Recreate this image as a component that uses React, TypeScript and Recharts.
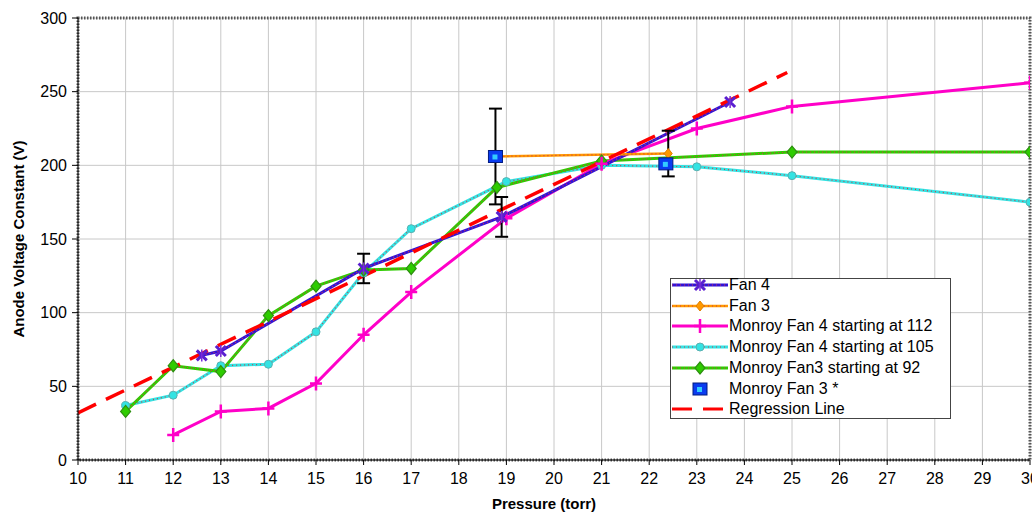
import React from 'react';
import {
  ComposedChart, Line, XAxis, YAxis, CartesianGrid, ErrorBar, Legend, ReferenceArea,
} from 'recharts';

// ---------- data ----------
const xTicks = [10, 11, 12, 13, 14, 15, 16, 17, 18, 19, 20, 21, 22, 23, 24, 25, 26, 27, 28, 29, 30];
const yTicks = [0, 50, 100, 150, 200, 250, 300];

const fan4X = [12.6, 13, 16, 18.9, 23.7];
const fan4Y = [71, 74, 130, 165, 243];
const fan4Err = [0, 0, 10, 13.5, 0];

const fan3X = [18.77, 22.4];
const fan3Y = [206, 208];
const fan3Err = [32.5, 15.5];

const m112X = [12, 13, 14, 15, 16, 17, 19, 21, 23, 25, 30];
const m112Y = [17, 33, 35, 52, 85, 114, 164, 201, 225, 240, 256];

const m105X = [11, 12, 13, 14, 15, 16, 17, 19, 21, 23, 25, 30];
const m105Y = [37, 44, 64, 65, 87, 127, 157, 189, 200, 199, 193, 175];

const m92X = [11, 12, 13, 14, 15, 16, 17, 18.8, 21, 25, 30];
const m92Y = [33, 64, 60, 98, 118, 129, 130, 185, 203, 209, 209];

const mf3X = [18.77, 22.35];
const mf3Y = [206, 201];

const regX = [10, 24.9];
const regY = [32, 263];

const legendLabels = [
  'Fan 4',
  'Fan 3',
  'Monroy Fan 4 starting at 112',
  'Monroy Fan 4 starting at 105',
  'Monroy Fan3 starting at 92',
  'Monroy Fan 3 *',
  'Regression Line',
];

// ---------- helpers ----------
const pts = (xs: number[], ys: number[], es?: number[]) =>
  xs.map((x, i) => ({ x, y: ys[i], err: es ? es[i] : 0 }));

const fan4Data = pts(fan4X, fan4Y, fan4Err);
const fan4ErrData = fan4Data.filter((d) => d.err > 0);
const fan3Data = pts(fan3X, fan3Y, fan3Err);
const m112Data = pts(m112X, m112Y);
const m105Data = pts(m105X, m105Y);
const m92Data = pts(m92X, m92Y);
const mf3Data = pts(mf3X, mf3Y);
const regData = pts(regX, regY);

const FONT = "'Liberation Sans', Arial, sans-serif";

const C_FAN4 = '#3312d6';
const C_FAN3 = '#ff9900';
const C_M112 = '#ff00c8';
const C_M105 = '#33e3e3';
const C_M92 = '#2ecc00';
const C_REG = '#ff0000';
const C_DOTS = '#cc3b4a';

const XMark = ({ cx, cy }: any) => (
  <g>
    <path d={`M${cx - 5},${cy - 5}L${cx + 5},${cy + 5}M${cx + 5},${cy - 5}L${cx - 5},${cy + 5}`} stroke="#5a1fd0" strokeWidth={3} />
    <path d={`M${cx},${cy - 6}L${cx},${cy + 6}`} stroke="#7a2ad8" strokeWidth={1.5} />
  </g>
);
const PlusMark = ({ cx, cy }: any) => (
  <path d={`M${cx},${cy - 7}L${cx},${cy + 7}M${cx - 6},${cy}L${cx + 6},${cy}`} stroke={C_M112} strokeWidth={2.5} />
);
const CircleMark = ({ cx, cy }: any) => (
  <circle cx={cx} cy={cy} r={4} fill={C_M105} stroke="#5ab0b0" strokeWidth={1} />
);
const GreenMark = ({ cx, cy }: any) => (
  <path d={`M${cx},${cy - 6}L${cx + 5},${cy}L${cx},${cy + 6}L${cx - 5},${cy}Z`} fill={C_M92} stroke="#2d8f10" strokeWidth={1.2} />
);
const OrangeMark = ({ cx, cy }: any) => (
  <path d={`M${cx},${cy - 5}L${cx + 4},${cy}L${cx},${cy + 5}L${cx - 4},${cy}Z`} fill={C_FAN3} stroke="#e08000" strokeWidth={1} />
);
const SquareMark = ({ cx, cy }: any) => (
  <g>
    <rect x={cx - 7} y={cy - 6} width={14} height={12} fill="#0a3cf0" stroke="#001a80" strokeWidth={1} />
    <rect x={cx - 3} y={cy - 2} width={5} height={5} fill="#33ccff" />
  </g>
);

const dotFn = (Comp: any, prefix: string) => (props: any) => {
  const { cx, cy, index } = props;
  if (cx == null || cy == null) return <g key={`${prefix}-${index}`} />;
  return <g key={`${prefix}-${index}`}><Comp cx={cx} cy={cy} /></g>;
};

const legendIcon = (i: number) => {
  const w = 56;
  const mid = 10;
  switch (i) {
    case 0:
      return (
        <g>
          <line x1={0} y1={mid} x2={w} y2={mid} stroke={C_FAN4} strokeWidth={3} />
          <line x1={0} y1={mid} x2={w} y2={mid} stroke={C_DOTS} strokeWidth={1.2} strokeDasharray="1 3" />
          <XMark cx={w / 2} cy={mid} />
        </g>
      );
    case 1:
      return (
        <g>
          <line x1={0} y1={mid} x2={w} y2={mid} stroke={C_FAN3} strokeWidth={2.5} />
          <line x1={0} y1={mid} x2={w} y2={mid} stroke={C_DOTS} strokeWidth={1.2} strokeDasharray="1 3" />
          <OrangeMark cx={w / 2} cy={mid} />
        </g>
      );
    case 2:
      return (
        <g>
          <line x1={0} y1={mid} x2={w} y2={mid} stroke={C_M112} strokeWidth={3} />
          <PlusMark cx={w / 2} cy={mid} />
        </g>
      );
    case 3:
      return (
        <g>
          <line x1={0} y1={mid} x2={w} y2={mid} stroke={C_M105} strokeWidth={3} />
          <line x1={0} y1={mid} x2={w} y2={mid} stroke={C_DOTS} strokeWidth={1.2} strokeDasharray="1 3" />
          <CircleMark cx={w / 2} cy={mid} />
        </g>
      );
    case 4:
      return (
        <g>
          <line x1={0} y1={mid} x2={w} y2={mid} stroke={C_M92} strokeWidth={3} />
          <line x1={0} y1={mid} x2={w} y2={mid} stroke={C_DOTS} strokeWidth={1.2} strokeDasharray="1 3" />
          <GreenMark cx={w / 2} cy={mid} />
        </g>
      );
    case 5:
      return <SquareMark cx={w / 2} cy={mid} />;
    default:
      return (
        <g>
          <line x1={0} y1={mid} x2={w} y2={mid} stroke={C_REG} strokeWidth={3} strokeDasharray="20 11" />
        </g>
      );
  }
};

const renderLegend = () => (
  <div
    style={{
      position: 'relative',
      width: 281,
      height: 141,
      border: '1px solid #444',
      background: '#fff',
      fontFamily: FONT,
      fontSize: 16,
      color: '#000',
      boxSizing: 'border-box',
    }}
  >
    {legendLabels.map((lab, i) => (
      <div
        key={lab}
        style={{
          position: 'absolute',
          left: 1,
          top: 6 + 20.7 * i - 10,
          height: 20,
          display: 'flex',
          alignItems: 'center',
          whiteSpace: 'nowrap',
          lineHeight: '20px',
        }}
      >
        <svg width={56} height={20} style={{ display: 'block' }}>{legendIcon(i)}</svg>
        <span style={{ marginLeft: 1 }}>{lab}</span>
      </div>
    ))}
  </div>
);

export default function App() {
  return (
    <div style={{ position: 'absolute', left: 0, top: 0, width: 1032, height: 514, background: '#fff', fontFamily: FONT }}>
      <ComposedChart width={1032} height={514} margin={{ top: 18, right: 2, bottom: 0, left: 0 }}>
        <CartesianGrid stroke="#c8c8c8" strokeWidth={1} />
        <XAxis
          type="number"
          dataKey="x"
          domain={[10, 30]}
          ticks={xTicks}
          interval={0}
          allowDataOverflow
          height={54}
          tickSize={5}
          tickMargin={8}
          stroke="#000"
          tick={{ fill: '#000', fontSize: 16, fontFamily: FONT }}
          label={{
            value: 'Pressure (torr)',
            position: 'insideBottom',
            offset: 5,
            dx: -10,
            style: { fontWeight: 'bold', fontSize: 15, fill: '#000', fontFamily: FONT },
          }}
        />
        <YAxis
          type="number"
          dataKey="y"
          domain={[0, 300]}
          ticks={yTicks}
          interval={0}
          width={78}
          tickSize={6}
          tickMargin={5}
          stroke="#000"
          tick={{ fill: '#000', fontSize: 16, fontFamily: FONT }}
          label={{
            value: 'Anode Voltage Constant (V)',
            angle: -90,
            position: 'insideLeft',
            offset: 19,
            style: { textAnchor: 'middle', fontWeight: 'bold', fontSize: 15, fill: '#000', fontFamily: FONT },
          }}
        />
        <ReferenceArea x1={10} x2={30} y1={0} y2={300} fill="none" stroke="#555" strokeWidth={3} strokeDasharray="1.5 1.5" />

        {/* Monroy Fan 4 starting at 105 */}
        <Line data={m105Data} dataKey="y" type="linear" stroke={C_M105} strokeWidth={3} dot={false} activeDot={false} isAnimationActive={false} legendType="none" />
        <Line data={m105Data} dataKey="y" type="linear" stroke={C_DOTS} strokeWidth={1.2} strokeDasharray="1 3" dot={dotFn(CircleMark, 'c')} activeDot={false} isAnimationActive={false} legendType="none" />

        {/* Monroy Fan3 starting at 92 */}
        <Line data={m92Data} dataKey="y" type="linear" stroke={C_M92} strokeWidth={3} dot={false} activeDot={false} isAnimationActive={false} legendType="none" />
        <Line data={m92Data} dataKey="y" type="linear" stroke={C_DOTS} strokeWidth={1.2} strokeDasharray="1 3" dot={dotFn(GreenMark, 'g')} activeDot={false} isAnimationActive={false} legendType="none" />

        {/* Monroy Fan 4 starting at 112 */}
        <Line data={m112Data} dataKey="y" type="linear" stroke={C_M112} strokeWidth={3} dot={dotFn(PlusMark, 'p')} activeDot={false} isAnimationActive={false} legendType="none" />

        {/* Fan 4 */}
        <Line data={fan4Data} dataKey="y" type="linear" stroke={C_FAN4} strokeWidth={3} dot={false} activeDot={false} isAnimationActive={false} legendType="none" />
        <Line data={fan4Data} dataKey="y" type="linear" stroke={C_DOTS} strokeWidth={1.2} strokeDasharray="1 3" dot={dotFn(XMark, 'x')} activeDot={false} isAnimationActive={false} legendType="none" />

        {/* Fan 3 */}
        <Line data={fan3Data} dataKey="y" type="linear" stroke={C_FAN3} strokeWidth={2.5} dot={false} activeDot={false} isAnimationActive={false} legendType="none" />
        <Line data={fan3Data} dataKey="y" type="linear" stroke={C_DOTS} strokeWidth={1.2} strokeDasharray="1 3" dot={dotFn(OrangeMark, 'o')} activeDot={false} isAnimationActive={false} legendType="none" />

        {/* Regression Line */}
        <Line data={regData} dataKey="y" type="linear" stroke={C_REG} strokeWidth={3.5} strokeDasharray="20 11" dot={false} activeDot={false} isAnimationActive={false} legendType="none" />

        {/* error bars (hosts without a visible line) */}
        <Line data={fan4ErrData} dataKey="y" type="linear" stroke="none" strokeWidth={0} dot={false} activeDot={false} isAnimationActive={false} legendType="none">
          <ErrorBar dataKey="err" direction="y" width={6.5} stroke="#000" strokeWidth={2} />
        </Line>
        <Line data={fan3Data} dataKey="y" type="linear" stroke="none" strokeWidth={0} dot={false} activeDot={false} isAnimationActive={false} legendType="none">
          <ErrorBar dataKey="err" direction="y" width={6.5} stroke="#000" strokeWidth={2} />
        </Line>

        {/* Monroy Fan 3 * (markers only) */}
        <Line data={mf3Data} dataKey="y" type="linear" stroke="none" strokeWidth={0} dot={dotFn(SquareMark, 's')} activeDot={false} isAnimationActive={false} legendType="none" />

        <Legend
          content={renderLegend}
          layout="vertical"
          align="center"
          verticalAlign="middle"
          wrapperStyle={{ left: 670, top: 278, width: 281, height: 141, bottom: 'auto', right: 'auto' }}
        />
      </ComposedChart>
    </div>
  );
}
